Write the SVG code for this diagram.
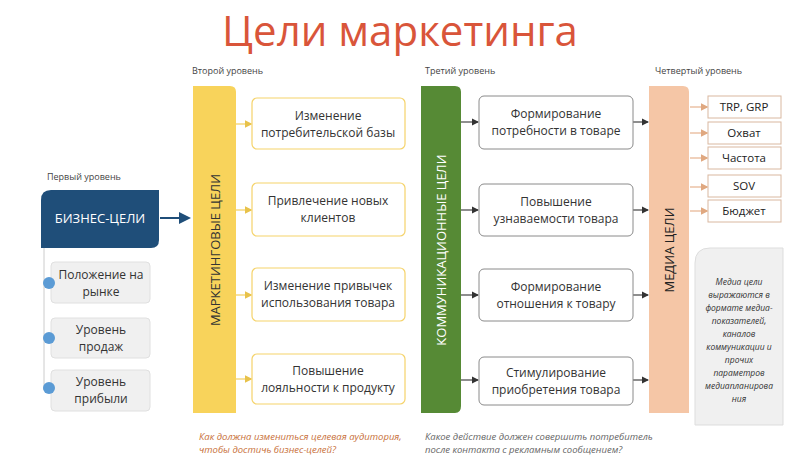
<svg xmlns="http://www.w3.org/2000/svg" width="807" height="459" viewBox="0 0 807 459">
<defs>
<style>
text{font-family:"Open Sans","Liberation Sans",sans-serif;}
.lvl{font-size:9px;fill:#444;}
.yb{fill:#fff;stroke:#f5d36a;stroke-width:1.2;}
.gb{fill:#fff;stroke:#8a8a8a;stroke-width:1;}
.pb{fill:#fff;stroke:#d9b8a0;stroke-width:1;}
.lb{fill:#f0f0f0;stroke:#e0e0e0;stroke-width:1;}
.t{font-size:12px;fill:#333;text-anchor:middle;}
.ts{font-size:11.5px;fill:#222;text-anchor:middle;}
.q{font-size:9.5px;font-style:italic;}
.ya{stroke:#f5d36a;stroke-width:1.3;fill:none;marker-end:url(#ay);}
.da{stroke:#444;stroke-width:1.2;fill:none;marker-end:url(#ad);}
.pa{stroke:#e8b898;stroke-width:1.3;fill:none;marker-end:url(#ap);}
</style>
<marker id="ay" markerWidth="6" markerHeight="6" refX="5" refY="3" orient="auto"><path d="M0,0L6,3L0,6z" fill="#e8c24a"/></marker>
<marker id="ad" markerWidth="6" markerHeight="6" refX="5" refY="3" orient="auto"><path d="M0,0L6,3L0,6z" fill="#333"/></marker>
<marker id="ap" markerWidth="6" markerHeight="6" refX="5" refY="3" orient="auto"><path d="M0,0L6,3L0,6z" fill="#e0a880"/></marker>
<marker id="ab" markerWidth="6" markerHeight="6" refX="5" refY="3" orient="auto"><path d="M0,0L6,3L0,6z" fill="#1f4e79"/></marker>
</defs>
<rect width="807" height="459" fill="#fff"/>
<text x="400" y="46" font-size="42" fill="#d9553a" text-anchor="middle">Цели маркетинга</text>
<text class="lvl" x="192" y="74">Второй уровень</text>
<text class="lvl" x="425" y="74">Третий уровень</text>
<text class="lvl" x="655" y="74">Четвертый уровень</text>
<text class="lvl" x="47" y="180">Первый уровень</text>

<g id="connectors">
<line x1="44" y1="248" x2="44" y2="390" stroke="#ccc" stroke-width="1"/>
<line x1="160" y1="218" x2="189" y2="218" stroke="#1f4e79" stroke-width="2" marker-end="url(#ab)"/>
<line class="ya" x1="236" y1="124" x2="251" y2="124"/>
<line class="ya" x1="236" y1="210" x2="251" y2="210"/>
<line class="ya" x1="236" y1="295" x2="251" y2="295"/>
<line class="ya" x1="236" y1="379" x2="251" y2="379"/>
<line class="da" x1="461" y1="122" x2="478" y2="122"/>
<line class="da" x1="461" y1="210" x2="478" y2="210"/>
<line class="da" x1="461" y1="295" x2="478" y2="295"/>
<line class="da" x1="461" y1="380" x2="478" y2="380"/>
<line class="da" x1="633" y1="122" x2="648" y2="122"/>
<line class="da" x1="633" y1="210" x2="648" y2="210"/>
<line class="da" x1="633" y1="295" x2="648" y2="295"/>
<line class="da" x1="633" y1="380" x2="648" y2="380"/>
<line class="pa" x1="690" y1="107" x2="707" y2="107"/>
<line class="pa" x1="690" y1="133" x2="707" y2="133"/>
<line class="pa" x1="690" y1="158" x2="707" y2="158"/>
<line class="pa" x1="690" y1="187" x2="707" y2="187"/>
<line class="pa" x1="690" y1="211" x2="707" y2="211"/>
</g>

<g id="business"><path d="M51,190H159V240Q159,248 151,248H41V200Q41,190 51,190z" fill="#1f4e79"/><text x="100" y="223" font-size="13" fill="#fff" text-anchor="middle">БИЗНЕС-ЦЕЛИ</text></g>
<g id="b1"><rect class="lb" x="51" y="262" width="99" height="41" rx="4"/><circle cx="49" cy="283" r="6" fill="#5b9bd5"/><text class="t" x="101" y="279">Положение  на</text><text class="t" x="101" y="296">рынке</text></g>
<g id="b2"><rect class="lb" x="51" y="318" width="99" height="40" rx="4"/><circle cx="49" cy="338" r="6" fill="#5b9bd5"/><text class="t" x="101" y="334">Уровень</text><text class="t" x="101" y="351">продаж</text></g>
<g id="b3"><rect class="lb" x="51" y="370" width="99" height="41" rx="4"/><circle cx="49" cy="388" r="6" fill="#5b9bd5"/><text class="t" x="101" y="386">Уровень</text><text class="t" x="101" y="403">прибыли</text></g>

<g id="mbar"><path d="M193,86H230Q236,86 236,92V413H193z" fill="#f8d35b"/><text transform="translate(220,250) rotate(-90)" font-size="13" fill="#333" text-anchor="middle">МАРКЕТИНГОВЫЕ ЦЕЛИ</text></g>
<g id="cbar"><path d="M421,86H455Q461,86 461,92V406Q461,413 455,413H421z" fill="#568a35"/><text transform="translate(446,250) rotate(-90)" font-size="13" fill="#fff" text-anchor="middle">КОММУНИКАЦИОННЫЕ ЦЕЛИ</text></g>
<g id="dbar"><path d="M649,86H683Q689,86 689,92V413H649z" fill="#f5c6a6"/><text transform="translate(674,250) rotate(-90)" font-size="13" fill="#222" text-anchor="middle">МЕДИА ЦЕЛИ</text></g>

<g id="m1"><rect class="yb" x="252" y="98" width="153" height="51" rx="5"/><text class="t" x="328" y="120">Изменение</text><text class="t" x="328" y="137">потребительской базы</text></g>
<g id="m2"><rect class="yb" x="252" y="183" width="153" height="53" rx="5"/><text class="t" x="328" y="205">Привлечение новых</text><text class="t" x="328" y="222">клиентов</text></g>
<g id="m3"><rect class="yb" x="252" y="268" width="153" height="53" rx="5"/><text class="t" x="328" y="290">Изменение привычек</text><text class="t" x="328" y="307">использования товара</text></g>
<g id="m4"><rect class="yb" x="252" y="354" width="153" height="50" rx="5"/><text class="t" x="328" y="375">Повышение</text><text class="t" x="328" y="392">лояльности к продукту</text></g>

<g id="c1"><rect class="gb" x="479" y="96" width="154" height="53" rx="5"/><text class="t" x="556" y="118">Формирование</text><text class="t" x="556" y="135">потребности  в товаре</text></g>
<g id="c2"><rect class="gb" x="479" y="184" width="154" height="52" rx="5"/><text class="t" x="556" y="206">Повышение</text><text class="t" x="556" y="223">узнаваемости товара</text></g>
<g id="c3"><rect class="gb" x="479" y="269" width="154" height="52" rx="5"/><text class="t" x="556" y="291">Формирование</text><text class="t" x="556" y="308">отношения к товару</text></g>
<g id="c4"><rect class="gb" x="479" y="357" width="154" height="48" rx="5"/><text class="t" x="556" y="377">Стимулирование</text><text class="t" x="556" y="394">приобретения товара</text></g>

<g id="d1"><rect class="pb" x="708" y="96" width="73" height="22"/><text class="ts" x="744" y="111">TRP, GRP</text></g>
<g id="d2"><rect class="pb" x="708" y="122" width="73" height="22"/><text class="ts" x="744" y="137">Охват</text></g>
<g id="d3"><rect class="pb" x="708" y="147" width="73" height="22"/><text class="ts" x="744" y="162">Частота</text></g>
<g id="d4"><rect class="pb" x="708" y="175" width="73" height="22"/><text class="ts" x="744" y="190">SOV</text></g>
<g id="d5"><rect class="pb" x="708" y="200" width="73" height="22"/><text class="ts" x="744" y="215">Бюджет</text></g>

<g id="note"><path d="M710,248H783V425H695V263Q695,248 710,248z" fill="#f0f0f0" stroke="#ddd"/>
<g font-size="8.5" font-style="italic" fill="#333" text-anchor="middle">
<text x="739" y="285">Медиа цели</text><text x="739" y="298">выражаются в</text><text x="739" y="311">формате медиа-</text><text x="739" y="324">показателей,</text><text x="739" y="337">каналов</text><text x="739" y="350">коммуникации и</text><text x="739" y="363">прочих</text><text x="739" y="376">параметров</text><text x="739" y="389">медиапланирова</text><text x="739" y="402">ния</text></g></g>

<g id="questions">
<text class="q" x="199" y="440" fill="#c8703a">Как должна измениться целевая аудитория,</text>
<text class="q" x="199" y="453" fill="#c8703a">чтобы достичь бизнес-целей?</text>
<text class="q" x="425" y="440" fill="#666">Какое действие должен совершить потребитель</text>
<text class="q" x="425" y="453" fill="#666">после контакта с рекламным сообщением?</text>
</g>
</svg>
